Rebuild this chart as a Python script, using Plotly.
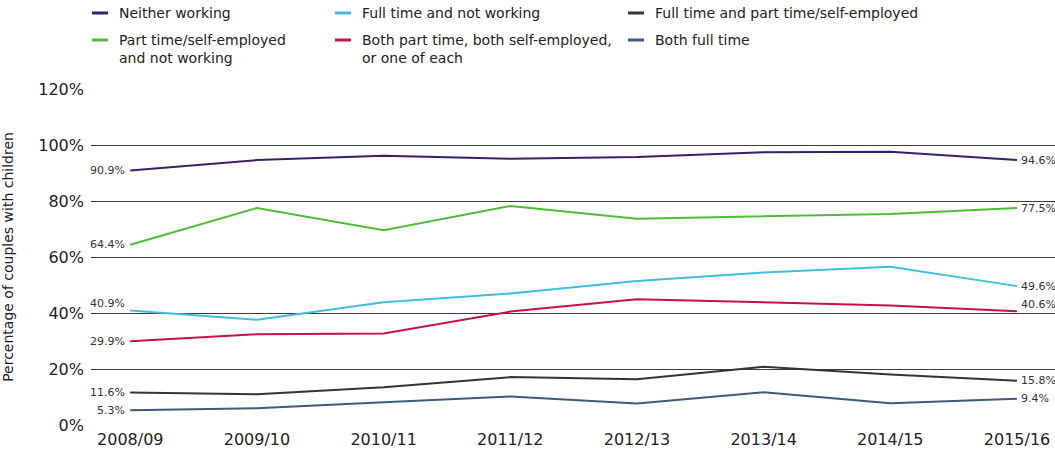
import plotly.graph_objects as go

years = ["2008/09", "2009/10", "2010/11", "2011/12", "2012/13", "2013/14", "2014/15", "2015/16"]

neither_working = [90.9, 94.6, 96.2, 95.1, 95.7, 97.4, 97.6, 94.6]
pt_and_not_working = [64.4, 77.5, 69.6, 78.2, 73.7, 74.6, 75.4, 77.5]
ft_and_not_working = [40.9, 37.6, 43.8, 47.0, 51.4, 54.5, 56.5, 49.6]
both_pt_or_se = [29.9, 32.4, 32.7, 40.5, 44.9, 43.8, 42.7, 40.6]
ft_and_pt = [11.6, 11.0, 13.5, 17.1, 16.3, 20.8, 18.0, 15.8]
both_ft = [5.3, 6.0, 8.1, 10.2, 7.7, 11.7, 7.8, 9.4]

y_ticks = [0, 20, 40, 60, 80, 100, 120]
y_tick_labels = [f"{v}%" for v in y_ticks]

series = [
    ("Neither working", neither_working, "#3b1f66", 0, 0),
    ("Part time/self-employed<br>and not working", pt_and_not_working, "#4dbd38", 0, 0),
    ("Full time and not working", ft_and_not_working, "#3fbfe0", 7, 0),
    ("Both part time, both self-employed,<br>or one of each", both_pt_or_se, "#c8104a", 0, 7),
    ("Full time and part time/self-employed", ft_and_pt, "#3a3232", 0, 0),
    ("Both full time", both_ft, "#3e5b79", 0, 0),
]

font_family = "'DejaVu Sans', sans-serif"
fig = go.Figure()
annotations = []
shapes = []

for name, vals, color, lshift, rshift in series:
    fig.add_trace(go.Scatter(x=years, y=vals, mode="lines", name=name,
                             line=dict(color=color, width=2), showlegend=False))
    annotations.append(dict(x=years[0], y=vals[0], xref="x", yref="y",
                            text=f"{vals[0]:.1f}%", showarrow=False,
                            xanchor="right", yanchor="middle", xshift=-3, yshift=lshift,
                            font=dict(size=11, color="#333", family=font_family)))
    annotations.append(dict(x=years[-1], y=vals[-1], xref="x", yref="y",
                            text=f"{vals[-1]:.1f}%", showarrow=False,
                            xanchor="left", yanchor="middle", xshift=2, yshift=rshift,
                            font=dict(size=11, color="#333", family=font_family)))

# Manual legend (pixel positions converted to paper coords)
W, H = 1055, 450
ml, mr, mt, mb = 91, 0, 89, 25
pw, ph = W - ml - mr, H - mt - mb

def px(x):
    return (x - ml) / pw

def py(y):
    return 1 - (y - mt) / ph

legend_items = [
    ("Neither working", "#3b1f66", 92, 13),
    ("Full time and not working", "#3fbfe0", 335, 13),
    ("Full time and part time/self-employed", "#3a3232", 628, 13),
    ("Part time/self-employed<br>and not working", "#4dbd38", 92, 40),
    ("Both part time, both self-employed,<br>or one of each", "#c8104a", 335, 40),
    ("Both full time", "#3e5b79", 628, 40),
]
for text, color, x0, y0 in legend_items:
    shapes.append(dict(type="line", xref="paper", yref="paper",
                       x0=px(x0), x1=px(x0 + 16), y0=py(y0), y1=py(y0),
                       line=dict(color=color, width=3)))
    annotations.append(dict(x=px(x0 + 25), y=py(y0 - 10), xref="paper", yref="paper",
                            text=text, showarrow=False, xanchor="left", yanchor="top",
                            align="left",
                            font=dict(size=14, color="#222", family=font_family)))

fig.update_layout(
    width=W, height=H,
    margin=dict(l=ml, r=mr, t=mt, b=mb),
    plot_bgcolor="white", paper_bgcolor="white",
    font=dict(family=font_family, color="#222"),
    xaxis=dict(type="category", range=[-0.31, 7.3], showgrid=False, zeroline=False,
               showline=False, ticks="", tickfont=dict(size=16), automargin=False,
               ticklabelstandoff=3),
    yaxis=dict(range=[0, 120], tickvals=y_ticks, ticktext=y_tick_labels,
               showgrid=True, gridcolor="#3a3a3a", gridwidth=1,
               zeroline=False, showline=False, tickfont=dict(size=16), automargin=False,
               ticklabelstandoff=6,
               title=dict(text="Percentage of couples with children", font=dict(size=14),
                          standoff=22)),
    annotations=annotations,
    shapes=shapes,
)

fig.write_html("out.html", config={"displayModeBar": False},
               post_script="document.body.style.margin='0';document.body.style.overflow='hidden';")
